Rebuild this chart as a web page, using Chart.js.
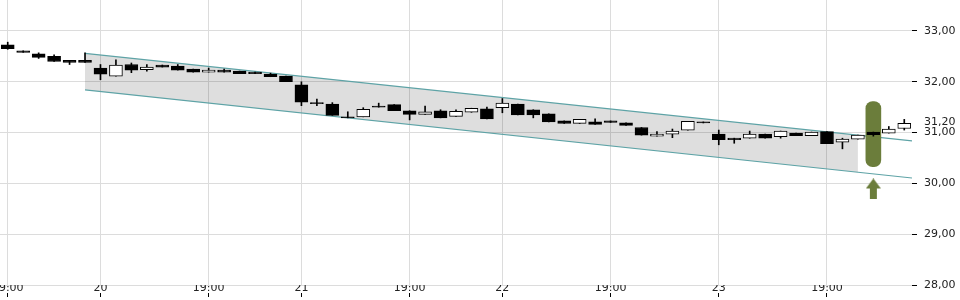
<!DOCTYPE html>
<html>
<head>
<meta charset="utf-8">
<script src="https://cdn.jsdelivr.net/npm/chart.js@4.4.1/dist/chart.umd.min.js"></script>
<style>
  html, body { margin: 0; padding: 0; background: #fff; }
  #wrap { width: 960px; height: 300px; position: relative; }
</style>
</head>
<body>
<div id="wrap"><canvas id="chart"></canvas></div>
<script>
// ─── DATA ────────────────────────────────────────────────────────────────────

const labels = [
  '19:00', '', '', '', '', '', '20', '', '', '', '', '', '', '19:00', '', '', '', '', '', '21',
  '', '', '', '', '', '', '19:00', '', '', '', '', '', '22', '', '', '', '', '', '', '19:00',
  '', '', '', '', '', '', '23', '', '', '', '', '', '', '19:00', '', '', '', '', ''
];

const open  = [32.73, 32.61, 32.55, 32.50, 32.42, 32.42, 32.27, 32.11, 32.34, 32.24,
               32.33, 32.31, 32.25, 32.19, 32.23, 32.21, 32.19, 32.15, 32.11, 31.94,
               31.59, 31.56, 31.31, 31.31, 31.52, 31.55, 31.43, 31.36, 31.43, 31.32,
               31.40, 31.47, 31.49, 31.56, 31.45, 31.37, 31.23, 31.18, 31.21, 31.23,
               31.19, 31.10, 30.93, 30.97, 31.05, 31.21, 30.97, 30.89, 30.89, 30.97,
               30.92, 30.99, 30.94, 31.02, 30.81, 30.87, 31.01, 30.99, 31.08];
const high  = [32.78, 32.61, 32.57, 32.53, 32.42, 32.57, 32.34, 32.43, 32.37, 32.34,
               32.33, 32.34, 32.25, 32.27, 32.25, 32.21, 32.19, 32.17, 32.11, 32.00,
               31.66, 31.59, 31.41, 31.49, 31.58, 31.55, 31.43, 31.52, 31.45, 31.45,
               31.48, 31.50, 31.67, 31.56, 31.45, 31.37, 31.23, 31.26, 31.27, 31.23,
               31.19, 31.10, 31.02, 31.07, 31.22, 31.21, 31.05, 30.89, 31.03, 30.97,
               31.03, 30.99, 31.01, 31.02, 30.89, 30.95, 31.01, 31.12, 31.26];
const low   = [32.64, 32.58, 32.46, 32.40, 32.34, 32.38, 32.04, 32.11, 32.18, 32.21,
               32.29, 32.23, 32.19, 32.19, 32.19, 32.16, 32.16, 32.10, 32.00, 31.53,
               31.53, 31.34, 31.29, 31.31, 31.50, 31.43, 31.25, 31.36, 31.29, 31.32,
               31.40, 31.27, 31.39, 31.35, 31.29, 31.21, 31.18, 31.18, 31.16, 31.20,
               31.14, 30.95, 30.93, 30.90, 31.05, 31.19, 30.76, 30.79, 30.89, 30.89,
               30.89, 30.94, 30.94, 30.78, 30.68, 30.87, 30.93, 30.99, 31.05];
const close = [32.65, 32.58, 32.48, 32.40, 32.38, 32.38, 32.15, 32.33, 32.23, 32.29,
               32.29, 32.23, 32.19, 32.23, 32.19, 32.16, 32.16, 32.10, 32.00, 31.60,
               31.57, 31.34, 31.29, 31.46, 31.50, 31.43, 31.36, 31.41, 31.29, 31.42,
               31.48, 31.27, 31.58, 31.35, 31.35, 31.21, 31.18, 31.26, 31.16, 31.20,
               31.14, 30.95, 30.97, 31.03, 31.22, 31.19, 30.86, 30.86, 30.97, 30.89,
               31.03, 30.94, 31.01, 30.78, 30.87, 30.95, 30.96, 31.07, 31.18];

// trend channel (x = candle index)
const channelX      = [5, 58.5];
const channelTop    = [32.56, 30.835];
const channelBottom = [31.84, 30.106];
const shadeX        = [5, 55];
const shadeTop      = [32.56, 30.95];
const shadeBottom   = [31.84, 30.22];

// signal marker
const markerIndex = 56;
const markerRange = [30.33, 31.61];
const arrowValue  = 29.89;

const yTicks = [28, 29, 30, 31, 31.2, 32, 33];

// ─── CHART ───────────────────────────────────────────────────────────────────

const GRID  = '#dcdcdc';
const TEXT  = '#222';
const GREEN = '#6b7d3b';
const TEAL  = '#5ea3a6';
const FONT  = { family: 'DejaVu Sans', size: 11 };

function makeArrow() {
  const c = document.createElement('canvas');
  c.width = 15; c.height = 21;
  const g = c.getContext('2d');
  g.fillStyle = GREEN;
  g.beginPath(); g.moveTo(7.5, 0); g.lineTo(15, 10); g.lineTo(0, 10); g.closePath(); g.fill();
  g.fillRect(4, 10, 7, 11);
  return c;
}

const pts = (xs, ys) => xs.map((x, i) => ({ x, y: ys[i] }));
const noPad = s => { s.paddingTop = 0; s.paddingBottom = 0; s.paddingLeft = 0; s.paddingRight = 0; };

new Chart(document.getElementById('chart'), {
  type: 'bar',
  data: {
    labels,
    datasets: [
      {
        // bodies
        data: open.map((o, i) => [Math.min(o, close[i]), Math.max(o, close[i])]),
        backgroundColor: open.map((o, i) => close[i] >= o ? '#fff' : '#000'),
        borderColor: '#000', borderWidth: 1, borderSkipped: false,
        barThickness: 13, grouped: false, order: 1
      },
      {
        // wicks
        data: low.map((l, i) => [l, high[i]]),
        backgroundColor: '#000', borderWidth: 0,
        barThickness: 1, grouped: false, order: 2
      },
      {
        data: labels.map((_, i) => i === markerIndex ? markerRange : null),
        backgroundColor: GREEN, borderWidth: 0, borderRadius: 7, borderSkipped: false,
        barThickness: 15, grouped: false, order: 3
      },
      {
        type: 'line', xAxisID: 'x2', data: [{ x: markerIndex, y: arrowValue }],
        showLine: false, pointStyle: makeArrow(), pointRadius: 8, order: 3
      },
      {
        type: 'line', xAxisID: 'x2', data: pts(channelX, channelTop),
        borderColor: TEAL, borderWidth: 1.2, pointRadius: 0, fill: false, order: 4
      },
      {
        type: 'line', xAxisID: 'x2', data: pts(channelX, channelBottom),
        borderColor: TEAL, borderWidth: 1.2, pointRadius: 0, fill: false, order: 4
      },
      {
        type: 'line', xAxisID: 'x2', data: pts(shadeX, shadeTop),
        borderWidth: 0, pointRadius: 0, fill: '+1', backgroundColor: 'rgba(0,0,0,0.13)', order: 6
      },
      {
        type: 'line', xAxisID: 'x2', data: pts(shadeX, shadeBottom),
        borderWidth: 0, pointRadius: 0, fill: false, order: 7
      }
    ]
  },
  options: {
    responsive: true,
    maintainAspectRatio: false,
    animation: false,
    layout: { padding: 0, autoPadding: false },
    plugins: { legend: { display: false }, tooltip: { enabled: false } },
    scales: {
      x: {
        type: 'category',
        offset: true,
        border: { display: false },
        grid: {
          offset: false,
          color: c => c.tick && c.tick.label ? GRID : 'transparent',
          tickColor: c => c.tick && c.tick.label ? '#000' : 'transparent',
          tickLength: 12,
          tickWidth: 1,
          tickBorderDash: [4, 8],
          tickBorderDashOffset: 4
        },
        ticks: { autoSkip: false, maxRotation: 0, padding: -15, color: TEXT, font: FONT },
        afterFit: s => { s.height = 15; noPad(s); }
      },
      x2: { type: 'linear', display: false, offset: false, min: -0.5, max: 58.5, grid: { offset: false } },
      y: {
        position: 'right',
        min: 28, max: 33.61,
        afterBuildTicks: s => { s.ticks = yTicks.map(v => ({ value: v })); },
        border: { display: false },
        grid: {
          color: c => c.tick && c.tick.value === 31.2 ? 'transparent' : GRID,
          tickColor: c => c.tick && c.tick.value === 31.2 ? 'transparent' : '#000',
          tickLength: 5
        },
        ticks: {
          autoSkip: false, padding: 7, color: TEXT, font: FONT,
          callback: v => v.toFixed(2).replace('.', ',')
        },
        afterFit: s => { s.width = 48; noPad(s); }
      }
    }
  }
});
</script>
</body>
</html>
